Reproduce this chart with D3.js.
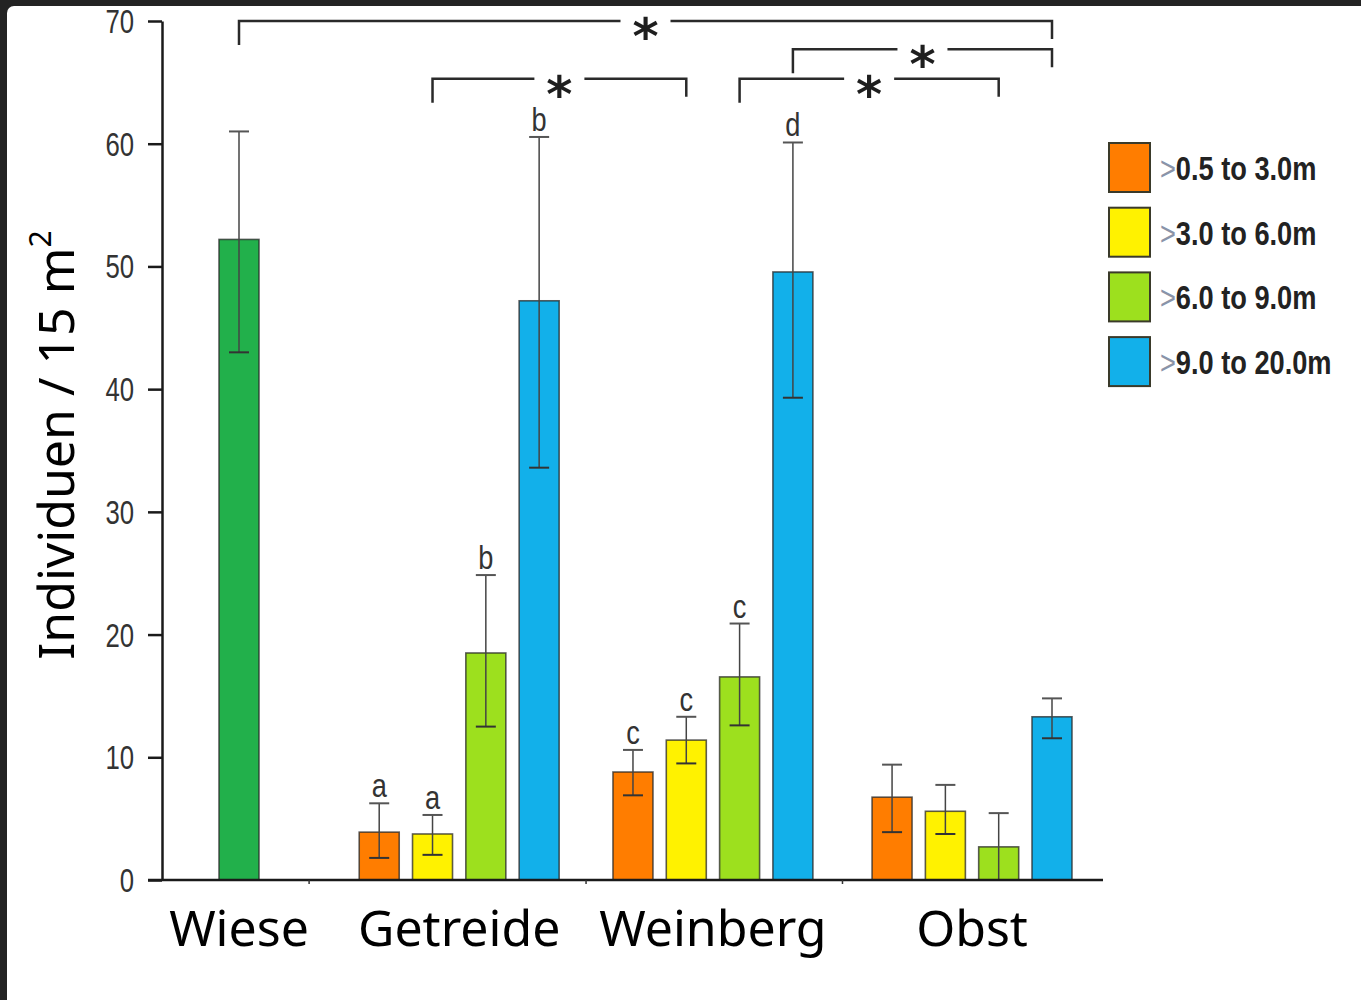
<!DOCTYPE html>
<html>
<head>
<meta charset="utf-8">
<script src="https://cdn.jsdelivr.net/npm/d3@7"></script>
<style>
  html, body { margin: 0; padding: 0; background: #232323; }
  svg { display: block; }
</style>
</head>
<body>
<script>
// Individuen pro 15 m² nach Abstand zum Feldrand, je Nutzungstyp
const categories = ["Wiese", "Getreide", "Weinberg", "Obst"];
const seriesLabels = [">0.5 to 3.0m", ">3.0 to 6.0m", ">6.0 to 9.0m", ">9.0 to 20.0m"];

// Mittelwerte je Kategorie (Wiese: ein Gesamtwert)
const meanWiese    = [52.2];
const meanGetreide = [3.9, 3.75, 18.5, 47.2];
const meanWeinberg = [8.8, 11.4, 16.55, 49.55];
const meanObst     = [6.75, 5.6, 2.7, 13.3];

// Fehlerbalken: obere und untere Grenze
const upperWiese    = [61.0];
const upperGetreide = [6.25, 5.3, 24.85, 60.55];
const upperWeinberg = [10.6, 13.3, 20.9, 60.1];
const upperObst     = [9.4, 7.75, 5.45, 14.8];

const lowerWiese    = [43.0];
const lowerGetreide = [1.8, 2.05, 12.5, 33.6];
const lowerWeinberg = [6.9, 9.5, 12.6, 39.3];
const lowerObst     = [3.9, 3.75, 0, 11.55];

// Buchstaben der Signifikanzgruppen
const lettersWiese    = [""];
const lettersGetreide = ["a", "a", "b", "b"];
const lettersWeinberg = ["c", "c", "c", "d"];
const lettersObst     = ["", "", "", ""];

// Signifikanzklammern: [Kategorie, Balken] -> [Kategorie, Balken], Höhe in Achseneinheiten
const bracketFrom  = [[0, 0], [1, 1], [2, 2], [2, 3]];
const bracketTo    = [[3, 3], [2, 1], [3, 2], [3, 3]];
const bracketLevel = [70, 65.3, 65.3, 67.7];
const bracketMark  = ["*", "*", "*", "*"];

const yTicks = [0, 10, 20, 30, 40, 50, 60, 70];

// ---- build bar records ----
const means   = [meanWiese, meanGetreide, meanWeinberg, meanObst];
const uppers  = [upperWiese, upperGetreide, upperWeinberg, upperObst];
const lowers  = [lowerWiese, lowerGetreide, lowerWeinberg, lowerObst];
const letters = [lettersWiese, lettersGetreide, lettersWeinberg, lettersObst];

const wieseColor = "#22b04b";
const seriesColors = ["#ff7d00", "#fff200", "#9de01e", "#12b0ea"];

// slot layout: bars inside a group sit one slot apart, groups separated by gaps
const groupSlotStart = [0, 2.63, 7.39, 12.25];
const bars = [];
categories.forEach((cat, gi) => {
  means[gi].forEach((v, si) => {
    bars.push({
      gi, si, cat,
      slot: groupSlotStart[gi] + si,
      value: v,
      hi: uppers[gi][si],
      lo: lowers[gi][si],
      letter: letters[gi][si],
      color: gi === 0 ? wieseColor : seriesColors[si]
    });
  });
});
const barAt = (gi, si) => bars.find(b => b.gi === gi && b.si === si);

const W = 1361, H = 1000;
const svg = d3.select("body").append("svg").attr("width", W).attr("height", H);

// white panel with rounded upper-left corner
svg.append("rect").attr("x", 7).attr("y", 6).attr("width", W + 20).attr("height", H + 20)
  .attr("rx", 7).attr("fill", "#ffffff");

const y = d3.scaleLinear().domain([0, 70]).range([880, 21]);
const x = d3.scaleLinear().domain([0, 15.25]).range([239, 1052]);
const barW = 40;

// condensed look: Liberation Sans squeezed horizontally
const sans = "'Liberation Sans', Arial, sans-serif";
const squeeze = 0.78;

// y axis
const yAxis = d3.axisLeft(y).tickValues(yTicks).tickSize(14).tickSizeOuter(0).tickPadding(0);
const gy = svg.append("g").attr("transform", "translate(162,0)").call(yAxis);
gy.select(".domain").attr("stroke", "#1a1a1a").attr("stroke-width", 2.5);
gy.selectAll(".tick line").attr("stroke", "#1a1a1a").attr("stroke-width", 2.5);
gy.selectAll(".tick text")
  .attr("x", null)
  .attr("transform", `translate(-28,0) scale(${squeeze},1)`)
  .attr("font-family", sans).attr("font-size", 33)
  .attr("fill", "#333").attr("dy", "0.35em");

// bars
svg.append("g").selectAll("rect").data(bars).join("rect")
  .attr("x", d => x(d.slot) - barW / 2)
  .attr("y", d => y(d.value))
  .attr("width", barW)
  .attr("height", d => y(0) - y(d.value))
  .attr("fill", d => d.color)
  .attr("stroke", "rgba(40,40,40,0.75)")
  .attr("stroke-width", 1.6);

// error bars
const eb = svg.append("g").selectAll("g").data(bars).join("g");
eb.append("line")
  .attr("x1", d => x(d.slot)).attr("x2", d => x(d.slot))
  .attr("y1", d => y(d.hi)).attr("y2", d => y(d.lo))
  .attr("stroke", "#444").attr("stroke-width", 1.5);
eb.append("line")
  .attr("x1", d => x(d.slot) - 10).attr("x2", d => x(d.slot) + 10)
  .attr("y1", d => y(d.hi)).attr("y2", d => y(d.hi))
  .attr("stroke", "#555").attr("stroke-width", 2);
eb.filter(d => d.lo > 0).append("line")
  .attr("x1", d => x(d.slot) - 10).attr("x2", d => x(d.slot) + 10)
  .attr("y1", d => y(d.lo)).attr("y2", d => y(d.lo))
  .attr("stroke", "#333").attr("stroke-width", 2);

// group letters
svg.append("g").selectAll("text").data(bars.filter(d => d.letter)).join("text")
  .attr("transform", d => `translate(${x(d.slot)},${y(d.hi) - 6}) scale(0.8,1)`)
  .attr("text-anchor", "middle")
  .attr("font-family", sans).attr("font-size", 34)
  .attr("fill", "#333")
  .text(d => d.letter);

// x axis line with small separators between groups
svg.append("line").attr("x1", 148).attr("x2", 1103).attr("y1", y(0)).attr("y2", y(0))
  .attr("stroke", "#1a1a1a").attr("stroke-width", 2.5);
const groupEdges = categories.slice(1).map((c, i) => {
  const prev = bars.filter(b => b.gi === i), next = bars.filter(b => b.gi === i + 1);
  return (x(d3.max(prev, b => b.slot)) + x(d3.min(next, b => b.slot))) / 2;
});
svg.append("g").selectAll("line").data(groupEdges).join("line")
  .attr("x1", d => d).attr("x2", d => d)
  .attr("y1", y(0)).attr("y2", y(0) + 4)
  .attr("stroke", "#333").attr("stroke-width", 1.5);

// category labels
const groupCenter = gi => {
  const g = bars.filter(b => b.gi === gi);
  return (x(d3.min(g, b => b.slot)) + x(d3.max(g, b => b.slot))) / 2;
};
svg.append("g").selectAll("text").data(categories).join("text")
  .attr("x", (d, i) => groupCenter(i))
  .attr("y", 946)
  .attr("text-anchor", "middle")
  .attr("font-family", "'Noto Sans', 'Open Sans', sans-serif")
  .attr("font-size", 50)
  .attr("fill", "#000")
  .text(d => d);

// y axis title
const yTitle = svg.append("text")
  .attr("transform", "translate(74,445) rotate(-90)")
  .attr("text-anchor", "middle")
  .attr("font-family", "'Noto Sans', 'Open Sans', sans-serif")
  .attr("font-size", 50)
  .attr("fill", "#000");
yTitle.append("tspan").text("Individuen / 15 m");
yTitle.append("tspan").attr("font-size", 30).attr("dy", -23).text("2");

// significance brackets
const bracketData = bracketFrom.map((f, i) => ({
  x1: x(barAt(f[0], f[1]).slot),
  x2: x(barAt(bracketTo[i][0], bracketTo[i][1]).slot),
  yy: y(bracketLevel[i]),
  mark: bracketMark[i]
}));
const bg = svg.append("g").selectAll("g").data(bracketData).join("g");
const dropL = 24, dropR = 18, gapHalf = 25;
bg.append("path")
  .attr("d", d => {
    const m = (d.x1 + d.x2) / 2;
    return `M${d.x1},${d.yy + dropL}V${d.yy}H${m - gapHalf}` +
           `M${m + gapHalf},${d.yy}H${d.x2}V${d.yy + dropR}`;
  })
  .attr("fill", "none").attr("stroke", "#2a2a2a").attr("stroke-width", 2.5);
bg.append("text")
  .attr("x", d => (d.x1 + d.x2) / 2)
  .attr("y", d => d.yy + 33)
  .attr("text-anchor", "middle")
  .attr("font-family", "'DejaVu Sans', sans-serif")
  .attr("font-weight", "bold")
  .attr("font-size", 50)
  .attr("fill", "#1e1e1e")
  .text(d => d.mark);

// legend
const legend = svg.append("g").attr("transform", "translate(1109,143)");
const li = legend.selectAll("g").data(seriesLabels).join("g")
  .attr("transform", (d, i) => `translate(0,${i * 64.7})`);
li.append("rect").attr("width", 41).attr("height", 49)
  .attr("fill", (d, i) => seriesColors[i])
  .attr("stroke", "#3a3a2a").attr("stroke-width", 2);
const lt = li.append("text")
  .attr("transform", `translate(51,37) scale(0.8,1)`)
  .attr("font-family", sans).attr("font-size", 34).attr("font-weight", "bold")
  .attr("fill", "#222");
lt.append("tspan").attr("fill", "#8a93a8").attr("font-weight", "normal").text(d => d.slice(0, 1));
lt.append("tspan").text(d => d.slice(1));
</script>
</body>
</html>
